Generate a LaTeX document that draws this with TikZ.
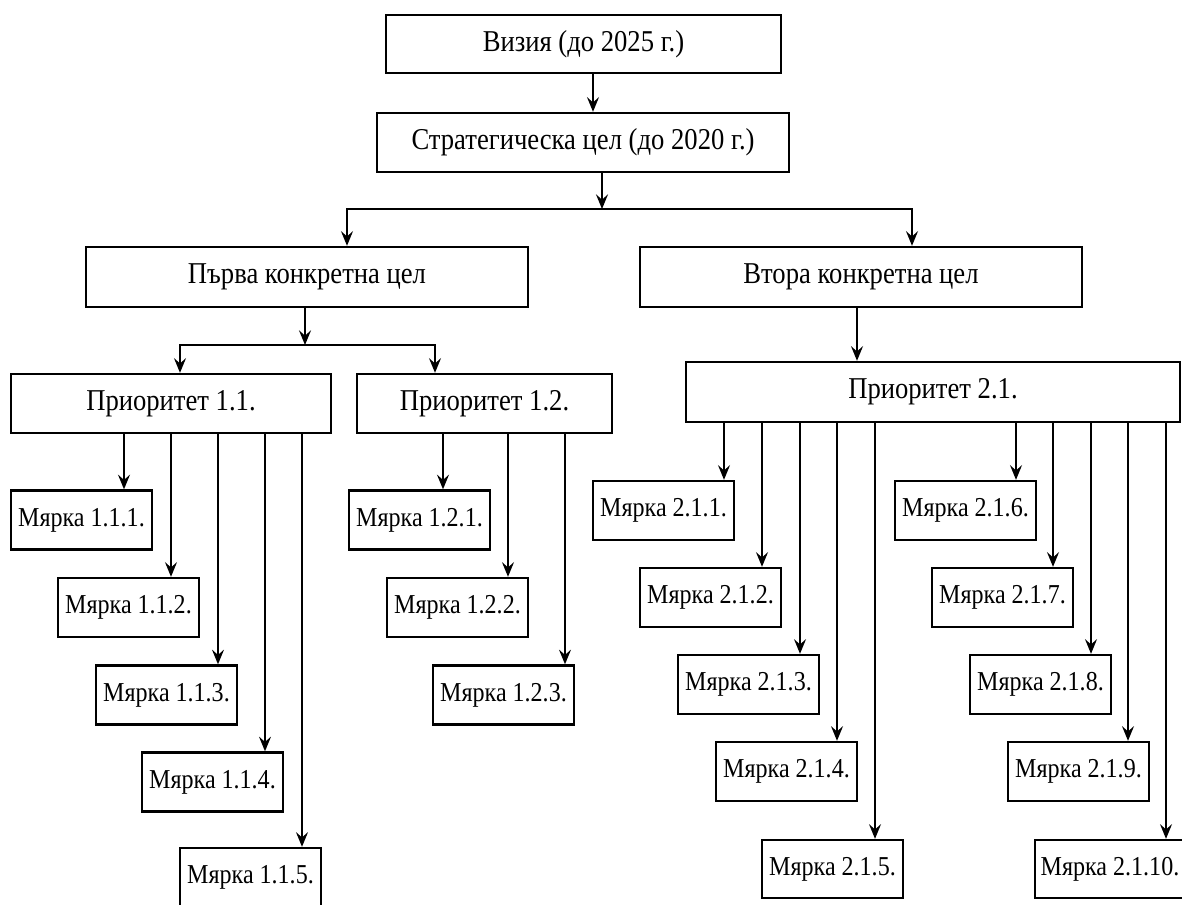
\documentclass[tikz,border=0pt]{standalone}
\usepackage{fontspec}
\setmainfont{Liberation Serif}[FakeStretch=0.88]
\usetikzlibrary{arrows.meta}
\tikzset{
 box/.style={draw, line width=1.8pt, inner sep=0pt, font=\fontsize{22.7}{27}\selectfont},
 mbox/.style={draw, line width=1.8pt, inner sep=0pt, minimum width=105.75pt, minimum height=44.25pt, font=\fontsize{20.5}{24}\selectfont},
 conn/.style={line width=1.4pt},
 arr/.style={conn, -{Stealth[length=11pt,width=9pt,inset=4pt]}},
}
\begin{document}
\begin{tikzpicture}[x=0.75pt,y=-0.75pt]
\useasboundingbox (0,0) rectangle (1182,904);
\clip (0,0) rectangle (1182,904);
% top levels
\node[box, minimum width=296.25pt, minimum height=43.5pt] (viz) at (583.5,44) {Визия (до 2025 г.)};
\node[box, minimum width=309pt, minimum height=44.25pt] (str) at (583,142.5) {Стратегическа цел (до 2020 г.)};
\node[box, minimum width=331.5pt, minimum height=45pt] (p1) at (307,277) {Първа конкретна цел};
\node[box, minimum width=331.5pt, minimum height=45pt] (p2) at (861,277) {Втора конкретна цел};
\node[box, minimum width=240pt, minimum height=44.25pt] (pr11) at (171,403.5) {Приоритет 1.1.};
\node[box, minimum width=191.25pt, minimum height=44.25pt] (pr12) at (484.5,403.5) {Приоритет 1.2.};
\node[box, minimum width=370.5pt, minimum height=45pt] (pr21) at (933,392) {Приоритет 2.1.};
% measures 1.1
\node[mbox] (m111) at (81.5,520) {Мярка 1.1.1.};
\node[mbox] (m112) at (128.5,607.5) {Мярка 1.1.2.};
\node[mbox] (m113) at (166.5,695) {Мярка 1.1.3.};
\node[mbox] (m114) at (212.5,782) {Мярка 1.1.4.};
\node[mbox] (m115) at (250.5,877.5) {Мярка 1.1.5.};
% measures 1.2
\node[mbox] (m121) at (419.5,520) {Мярка 1.2.1.};
\node[mbox] (m122) at (457.5,607.5) {Мярка 1.2.2.};
\node[mbox] (m123) at (503.5,695) {Мярка 1.2.3.};
% measures 2.1
\node[mbox] (m211) at (663.5,510.5) {Мярка 2.1.1.};
\node[mbox] (m212) at (710.5,597.5) {Мярка 2.1.2.};
\node[mbox] (m213) at (748.5,684.5) {Мярка 2.1.3.};
\node[mbox] (m214) at (786.5,771.5) {Мярка 2.1.4.};
\node[mbox, minimum height=43.5pt] (m215) at (832.5,869) {Мярка 2.1.5.};
\node[mbox] (m216) at (965.5,510.5) {Мярка 2.1.6.};
\node[mbox] (m217) at (1002.5,597.5) {Мярка 2.1.7.};
\node[mbox] (m218) at (1040.5,684.5) {Мярка 2.1.8.};
\node[mbox] (m219) at (1078.5,771.5) {Мярка 2.1.9.};
\node[mbox, minimum width=112.5pt, minimum height=43.5pt] (m2110) at (1110,869) {Мярка 2.1.10.};
% connectors
\draw[arr] (viz.south -| 593,0) -- (str.north -| 593,0);
\coordinate (j1) at (602,209);
\draw[arr] (str.south -| j1) -- (j1);
\draw[arr] (j1) -| (p1.north -| 347,0);
\draw[arr] (j1) -| (p2.north -| 912,0);
\coordinate (j2) at (305,345);
\draw[arr] (p1.south -| j2) -- (j2);
\draw[arr] (j2) -| (pr11.north -| 180,0);
\draw[arr] (j2) -| (pr12.north -| 435,0);
\draw[arr] (p2.south -| 857,0) -- (pr21.north -| 857,0);
% 1.1
\draw[arr] (pr11.south -| 124,0) -- (m111.north -| 124,0);
\draw[arr] (pr11.south -| 171,0) -- (m112.north -| 171,0);
\draw[arr] (pr11.south -| 218,0) -- (m113.north -| 218,0);
\draw[arr] (pr11.south -| 265,0) -- (m114.north -| 265,0);
\draw[arr] (pr11.south -| 302,0) -- (m115.north -| 302,0);
% 1.2
\draw[arr] (pr12.south -| 443,0) -- (m121.north -| 443,0);
\draw[arr] (pr12.south -| 508,0) -- (m122.north -| 508,0);
\draw[arr] (pr12.south -| 565,0) -- (m123.north -| 565,0);
% 2.1
\draw[arr] (pr21.south -| 724,0) -- (m211.north -| 724,0);
\draw[arr] (pr21.south -| 762,0) -- (m212.north -| 762,0);
\draw[arr] (pr21.south -| 800,0) -- (m213.north -| 800,0);
\draw[arr] (pr21.south -| 837,0) -- (m214.north -| 837,0);
\draw[arr] (pr21.south -| 875,0) -- (m215.north -| 875,0);
\draw[arr] (pr21.south -| 1016,0) -- (m216.north -| 1016,0);
\draw[arr] (pr21.south -| 1053,0) -- (m217.north -| 1053,0);
\draw[arr] (pr21.south -| 1091,0) -- (m218.north -| 1091,0);
\draw[arr] (pr21.south -| 1128,0) -- (m219.north -| 1128,0);
\draw[arr] (pr21.south -| 1166,0) -- (m2110.north -| 1166,0);
\end{tikzpicture}
\end{document}
